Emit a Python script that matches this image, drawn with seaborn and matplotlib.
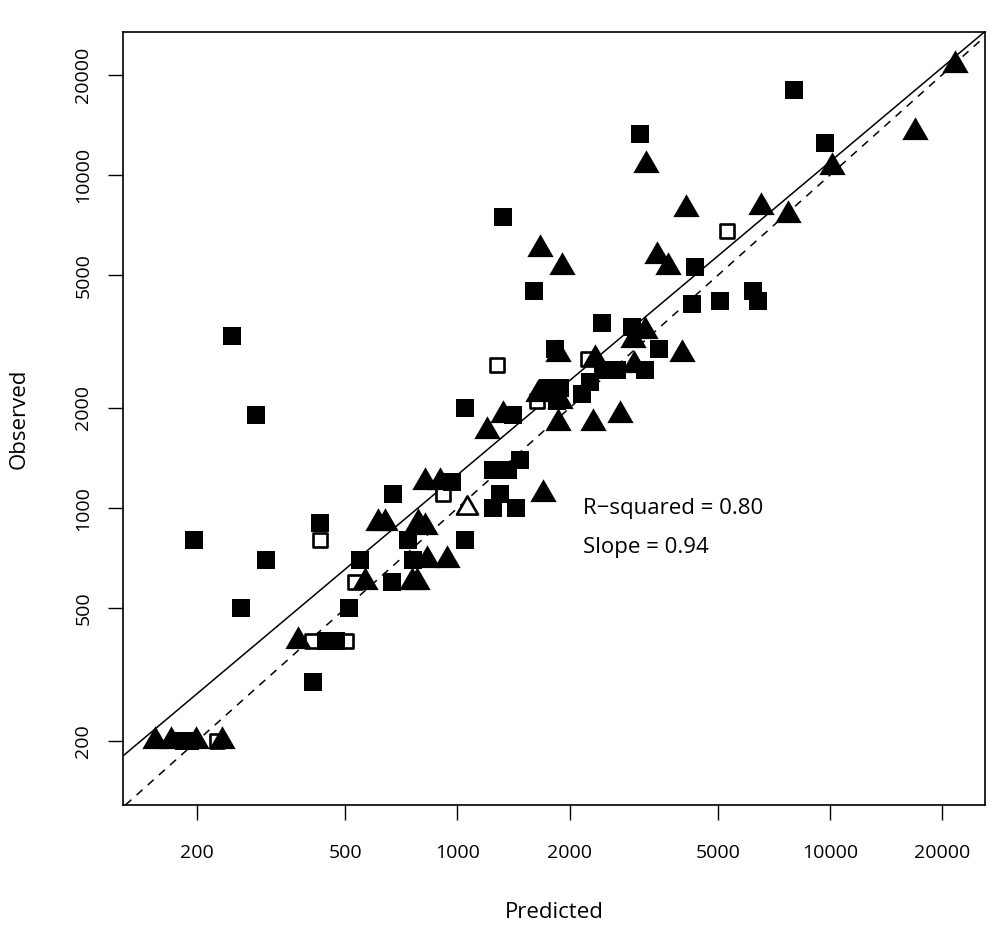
import matplotlib
matplotlib.use("Agg")
import matplotlib.pyplot as plt
import matplotlib.ticker as mticker
from matplotlib.path import Path
import seaborn as sns
import pandas as pd

# filled squares
sq_pred = [248, 288, 196, 306, 262, 428, 672, 548, 668, 512, 444, 472, 410, 185, 191,
           968, 738, 760, 1049, 1049, 1247, 1368, 1473, 1303, 1247, 1439, 1412, 1327,
           1607, 1751, 1888, 1852, 1829, 2161, 2271, 2459, 2684, 3190, 2446, 2946,
           3093, 3481, 4265, 4345, 5072, 6220, 6410, 8010, 9710]
sq_obs = [3300, 1900, 800, 700, 500, 900, 1100, 700, 600, 500, 400, 400, 300, 200, 200,
          1200, 800, 700, 2000, 800, 1300, 1300, 1400, 1100, 1000, 1000, 1900, 7500,
          4500, 2300, 2300, 2100, 3000, 2200, 2400, 2600, 2600, 2600, 3600, 3500,
          13300, 3000, 4100, 5300, 4200, 4500, 4200, 18000, 12500]

# filled triangles
tri_pred = [154, 170, 199, 233, 373, 565, 612, 640, 756, 780, 784, 819, 819, 898, 829, 937,
            1202, 1327, 1700, 1668, 1910, 1648, 1864, 1890, 1864, 2313, 2735, 2342, 2980,
            3190, 2964, 3210, 3438, 3680, 4010, 4110, 6530, 7720, 10140, 16940, 21690]
tri_obs = [200, 200, 200, 200, 400, 600, 900, 900, 600, 600, 900, 880, 1200, 1200, 700, 700,
           1700, 1900, 1100, 6000, 5300, 2200, 2900, 2100, 1800, 1800, 1900, 2800, 2700,
           3400, 3200, 10700, 5700, 5300, 2900, 7900, 8000, 7600, 10600, 13500, 21400]

# open squares
open_sq_pred = [226, 428, 407, 502, 531, 914, 1277, 1637, 2244, 5295]
open_sq_obs = [200, 800, 400, 400, 600, 1100, 2700, 2100, 2800, 6800]

# open triangle
open_tri_pred = [1062]
open_tri_obs = [1000]

# log10 fit
fit_intercept = 0.28
fit_slope = 0.94
r_squared = 0.80

ticks = [200, 500, 1000, 2000, 5000, 10000, 20000]
tick_labels = ["200", "500", "1000", "2000", "5000", "10000", "20000"]

sns.set_style("white")
plt.rcParams["font.family"] = ["Open Sans", "DejaVu Sans"]
plt.rcParams["text.color"] = "black"
plt.rcParams["axes.labelcolor"] = "black"
plt.rcParams["xtick.color"] = "black"
plt.rcParams["ytick.color"] = "black"

fig = plt.figure(figsize=(10.08, 9.39), dpi=100)
ax = fig.add_axes([123 / 1008, 134 / 939, 862 / 1008, 773 / 939])

# equilateral triangle centred on its centroid, like R's pch 17
tri = Path([(0, 1.1547), (-1, -0.5774), (1, -0.5774), (0, 1.1547)], closed=True)

open_sq = pd.DataFrame({"pred": open_sq_pred, "obs": open_sq_obs})
filled_sq = pd.DataFrame({"pred": sq_pred, "obs": sq_obs})
filled_tri = pd.DataFrame({"pred": tri_pred, "obs": tri_obs})
open_tri = pd.DataFrame({"pred": open_tri_pred, "obs": open_tri_obs})

sns.scatterplot(data=open_sq, x="pred", y="obs", ax=ax, marker="s", s=108,
                facecolor="white", edgecolor="black", linewidth=1.9, zorder=3)
sns.scatterplot(data=filled_sq, x="pred", y="obs", ax=ax, marker="s", s=169,
                color="black", linewidth=0, zorder=3)
sns.scatterplot(data=filled_tri, x="pred", y="obs", ax=ax, marker=tri, s=480,
                color="black", linewidth=0, zorder=3)
sns.scatterplot(data=open_tri, x="pred", y="obs", ax=ax, marker=tri, s=305,
                facecolor="white", edgecolor="black", linewidth=1.9, zorder=3)

ax.set_xscale("log")
ax.set_yscale("log")
ax.set_xlim(126.6, 26080)
ax.set_ylim(128.5, 26900)

# 1:1 line and fitted line
ax.axline((100, 100), (10000, 10000), color="black", lw=1.1,
          linestyle=(0, (5.2, 4.6)), zorder=2)
ax.axline((100, 10 ** (fit_intercept + 2 * fit_slope)),
          (10000, 10 ** (fit_intercept + 4 * fit_slope)),
          color="black", lw=1.1, zorder=2)

ax.text(2170, 1000, "R\u2212squared = %.2f" % r_squared, fontsize=16,
        ha="left", va="center")
ax.text(2170, 760, "Slope = %.2f" % fit_slope, fontsize=16,
        ha="left", va="center")

ax.xaxis.set_major_locator(mticker.FixedLocator(ticks))
ax.yaxis.set_major_locator(mticker.FixedLocator(ticks))
ax.xaxis.set_minor_locator(mticker.NullLocator())
ax.yaxis.set_minor_locator(mticker.NullLocator())
ax.set_xticklabels(tick_labels, fontsize=14)
ax.set_yticklabels(tick_labels, fontsize=14, rotation=90, va="center")
ax.tick_params(axis="both", which="major", direction="out", length=11,
               width=1.0, color="black", bottom=True, left=True)
ax.tick_params(axis="x", pad=17)
ax.tick_params(axis="y", pad=11)

for sp in ax.spines.values():
    sp.set_color("black")
    sp.set_linewidth(1.2)

ax.set_xlabel("Predicted", fontsize=16)
ax.set_ylabel("Observed", fontsize=16)
ax.xaxis.label.set_va("center")
ax.yaxis.label.set_va("center")
ax.xaxis.set_label_coords(0.5, (805 - 912) / 773)
ax.yaxis.set_label_coords((19 - 123) / 862, 0.5)

fig.savefig("out.png", dpi=100, facecolor="white")
